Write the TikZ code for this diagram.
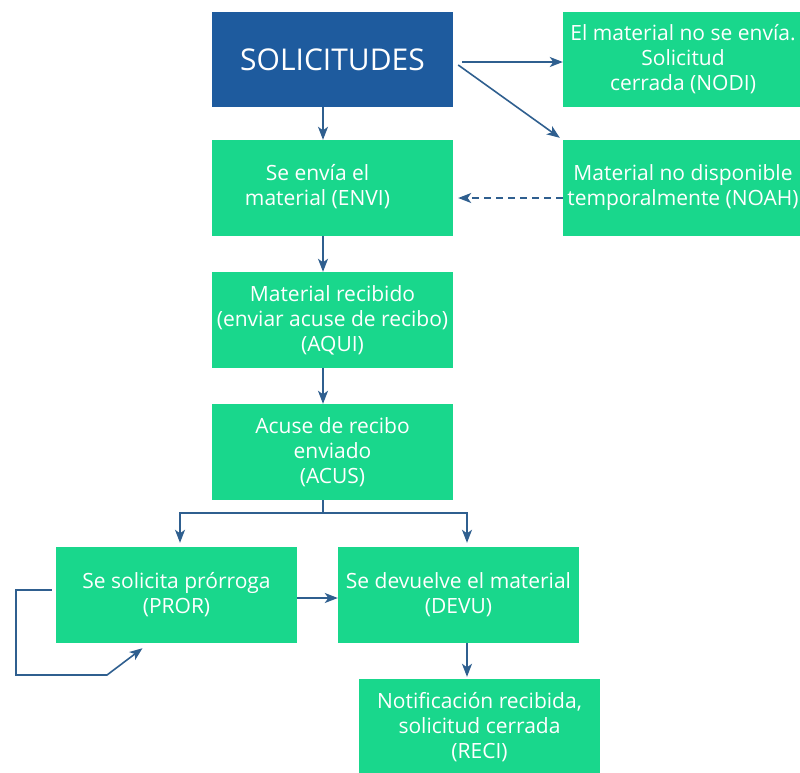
\documentclass[tikz,border=0pt]{standalone}
\usepackage{fontspec}
\setmainfont{Open Sans}
\usetikzlibrary{arrows.meta}
\definecolor{gfill}{HTML}{19D78C}
\definecolor{bfill}{HTML}{1E5B9E}
\definecolor{arrc}{HTML}{2F5F8F}
\tikzset{
  gbox/.style={rectangle, fill=gfill, inner sep=0pt, text=white, align=center,
    minimum width=241pt, minimum height=96pt,
    font=\fontsize{21pt}{25pt}\selectfont},
  bbox/.style={gbox, fill=bfill, minimum height=95pt, font=\fontsize{30pt}{34pt}\selectfont},
  arr/.style={draw=arrc, line width=1.6pt, -{Stealth[length=13pt,width=10pt,inset=3.5pt]}},
  ln/.style={draw=arrc, line width=1.6pt},
}
\begin{document}
\begin{tikzpicture}[x=1pt,y=-1pt]
\useasboundingbox (0,0) rectangle (800,772);
\node[bbox] (sol) at (332.5,59.5) {SOLICITUDES};
\node[gbox, minimum width=240pt, minimum height=95pt] (nodi) at (683,59.5) {El material no se envía.\\Solicitud\\cerrada (NODI)};
\node[gbox, align=none] (envi) at (332.5,188) {\hspace*{-30pt}\begin{tabular}{@{}c@{}}Se envía el\\material (ENVI)\end{tabular}};
\node[gbox, minimum width=240pt] (noah) at (683,188) {Material no disponible\\temporalmente (NOAH)};
\node[gbox] (aqui) at (332.5,320) {Material recibido\\(enviar acuse de recibo)\\(AQUI)};
\node[gbox] (acus) at (332.5,452) {Acuse de recibo\\enviado\\(ACUS)};
\node[gbox] (pror) at (176.5,595) {Se solicita prórroga\\(PROR)};
\node[gbox] (devu) at (458.5,595) {Se devuelve el material\\(DEVU)};
\node[gbox] (reci) at (479.5,727) {Notificación recibida,\\solicitud cerrada\\(RECI)};
% connectors
\draw[arr] ([xshift=-9.5pt]sol.south) -- ([xshift=-9.5pt]envi.north);
\draw[arr] ([xshift=9pt,yshift=-2.5pt]sol.east) -- ([yshift=-2.5pt]nodi.west);
\draw[arr] ([xshift=5pt,yshift=-5.5pt]sol.east) -- ([xshift=-3pt,yshift=2pt]noah.north west);
\draw[arr, dashed, dash pattern=on 7pt off 5pt] ([yshift=-10pt]noah.west) -- ([xshift=5pt,yshift=-10pt]envi.east);
\draw[arr] ([xshift=-9.5pt]envi.south) -- ([xshift=-9.5pt]aqui.north);
\draw[arr] ([xshift=-9.5pt]aqui.south) -- ([xshift=-9.5pt]acus.north);
\coordinate (br) at ([xshift=-9.5pt,yshift=-13pt]acus.south);
\draw[ln] ([xshift=-9.5pt]acus.south) -- (br);
\draw[arr] (br) -| ([xshift=3.5pt,yshift=4pt]pror.north);
\draw[arr] (br) -| ([xshift=8.5pt,yshift=4pt]devu.north);
\draw[arr] ([yshift=-3pt]pror.east) -- ([yshift=-3pt]devu.west);
\draw[arr] ([xshift=8.5pt]devu.south) -- ([xshift=-12.5pt,yshift=2pt]reci.north);
\coordinate (l1) at (16,590);
\coordinate (l2) at (16,675);
\coordinate (l3) at (107,675);
\draw[arr] ([xshift=-4pt,yshift=5pt]pror.west) -- (l1) -- (l2) -- (l3) -- ([xshift=-34pt,yshift=-5pt]pror.south);
\end{tikzpicture}
\end{document}
